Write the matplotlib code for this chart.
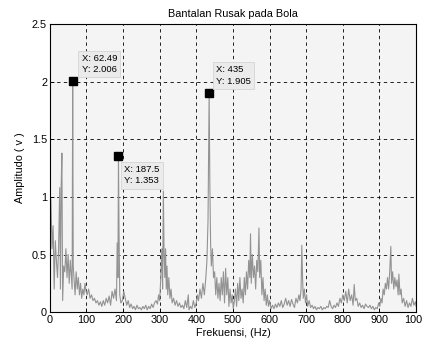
import numpy as np
import matplotlib.pyplot as plt
import matplotlib.transforms as mtransforms

plt.rcParams['font.family'] = ['Liberation Sans', 'DejaVu Sans']

# spectrum (Hz, volt)
freq = [0, 3, 6, 9, 12, 15, 18, 21, 24, 27, 29, 31, 33, 35, 38, 41, 44, 47, 50, 53,
        56, 59, 61, 62.49, 64, 66, 69, 72, 75, 78, 81, 84, 87, 90, 93, 96, 99, 102,
        106, 110, 114, 118, 122, 126, 130, 134, 138, 142, 146, 150, 154, 158, 162,
        166, 170, 174, 178, 182, 184, 186, 187.5, 189, 191, 194, 198, 202, 206, 210,
        214, 218, 222, 226, 230, 234, 238, 242, 246, 250, 254, 258, 262, 266, 270,
        274, 278, 282, 286, 290, 294, 297, 300, 303, 306, 308, 310, 312, 314, 316,
        318, 320, 322, 325, 328, 331, 334, 338, 342, 346, 350, 354, 358, 362, 366,
        370, 374, 378, 380, 384, 388, 392, 396, 400, 403, 406, 410, 414, 418, 422,
        426, 429, 432, 435, 437, 439, 441, 444, 447, 450, 453, 456, 459, 462, 465,
        468, 471, 474, 477, 480, 483, 486, 489, 492, 495, 498, 501, 504, 507, 510,
        513, 516, 519, 522, 525, 528, 531, 534, 537, 540, 543, 546, 548, 550, 553,
        556, 559, 562, 565, 568, 571, 573, 576, 579, 582, 585, 588, 591, 594, 597,
        600, 604, 608, 612, 616, 620, 624, 628, 632, 636, 640, 644, 648, 652, 656,
        660, 664, 668, 672, 676, 680, 683, 686, 688, 690, 692, 695, 698, 701, 704,
        708, 712, 716, 720, 724, 728, 732, 736, 740, 744, 748, 752, 756, 760, 764,
        768, 772, 776, 780, 784, 788, 792, 796, 800, 804, 808, 812, 816, 820, 824,
        828, 831, 834, 838, 842, 846, 850, 854, 858, 862, 866, 870, 874, 878, 882,
        886, 890, 894, 898, 901, 904, 907, 910, 913, 916, 919, 922, 925, 928, 931,
        933, 936, 939, 942, 945, 948, 951, 953, 956, 959, 962, 966, 970, 974, 978,
        982, 986, 990, 994, 998, 1000]
amp = [0.95, 0.98, 0.55, 0.75, 0.2, 0.62, 0.45, 0.3, 0.55, 1.08, 0.2, 1.08, 1.38, 0.1,
       0.4, 0.35, 0.55, 0.3, 0.5, 0.25, 0.45, 0.3, 0.2, 2.006, 0.4, 0.3, 0.15, 0.35,
       0.2, 0.3, 0.15, 0.25, 0.12, 0.2, 0.15, 0.25, 0.18, 0.15, 0.2, 0.12, 0.15, 0.1,
       0.12, 0.08, 0.1, 0.06, 0.09, 0.05, 0.1, 0.06, 0.12, 0.08, 0.14, 0.06, 0.18,
       0.12, 0.2, 0.1, 0.6, 0.3, 1.353, 0.7, 0.15, 0.08, 0.1, 0.18, 0.12, 0.06, 0.1,
       0.04, 0.07, 0.03, 0.05, 0.02, 0.06, 0.03, 0.04, 0.02, 0.05, 0.03, 0.06, 0.02,
       0.05, 0.03, 0.07, 0.04, 0.08, 0.1, 0.07, 0.15, 0.1, 0.3, 0.55, 0.2, 1.05, 0.5,
       0.3, 0.55, 0.2, 0.4, 0.15, 0.3, 0.12, 0.2, 0.08, 0.12, 0.06, 0.1, 0.05, 0.08,
       0.04, 0.06, 0.03, 0.1, 0.04, 0.15, 0.02, 0.05, 0.03, 0.1, 0.04, 0.08, 0.15,
       0.1, 0.2, 0.12, 0.25, 0.15, 0.3, 0.45, 0.8, 1.905, 1.08, 0.6, 0.4, 0.55, 0.3,
       0.35, 0.15, 0.3, 0.12, 0.25, 0.1, 0.3, 0.15, 0.35, 0.08, 0.38, 0.15, 0.3, 0.05,
       0.2, 0.08, 0.15, 0.03, 0.1, 0.2, 0.05, 0.25, 0.1, 0.3, 0.12, 0.2, 0.08, 0.3,
       0.15, 0.35, 0.2, 0.45, 0.3, 0.68, 0.25, 0.5, 0.3, 0.4, 0.2, 0.45, 0.35, 0.73,
       0.3, 0.45, 0.15, 0.3, 0.1, 0.2, 0.06, 0.15, 0.05, 0.1, 0.03, 0.06, 0.03, 0.07,
       0.04, 0.08, 0.05, 0.1, 0.04, 0.07, 0.12, 0.06, 0.1, 0.05, 0.11, 0.07, 0.04,
       0.12, 0.08, 0.15, 0.1, 0.2, 0.58, 0.3, 0.12, 0.2, 0.08, 0.15, 0.05, 0.1, 0.04,
       0.06, 0.03, 0.05, 0.02, 0.04, 0.03, 0.05, 0.02, 0.04, 0.03, 0.05, 0.04, 0.1,
       0.05, 0.03, 0.06, 0.04, 0.08, 0.05, 0.12, 0.08, 0.15, 0.1, 0.18, 0.08, 0.2,
       0.1, 0.15, 0.06, 0.24, 0.1, 0.12, 0.05, 0.08, 0.04, 0.06, 0.03, 0.07, 0.05,
       0.04, 0.06, 0.03, 0.05, 0.02, 0.04, 0.03, 0.08, 0.05, 0.12, 0.08, 0.2, 0.15,
       0.25, 0.2, 0.3, 0.2, 0.35, 0.57, 0.25, 0.35, 0.2, 0.3, 0.22, 0.28, 0.15, 0.33,
       0.15, 0.2, 0.08, 0.12, 0.05, 0.1, 0.04, 0.08, 0.05, 0.12, 0.06, 0.09, 0.05]

# data tips
tip_x = [62.49, 187.5, 435]
tip_y = [2.006, 1.353, 1.905]
tip_off = [(9, 7, 'bottom'), (6, -9, 'top'), (7, 7, 'bottom')]

fig = plt.figure(figsize=(4.22, 3.43), dpi=100)
ax = fig.add_axes([0.118, 0.090, 0.868, 0.840])
ax.set_facecolor('#f4f4f4')

ax.plot(freq, amp, color='#939393', lw=0.8)
ax.plot(tip_x, tip_y, 's', color='black', ms=5.5)

for x, y, (dx, dy, va) in zip(tip_x, tip_y, tip_off):
    ax.annotate('X: %g\nY: %.3f' % (x, y), (x, y), xytext=(dx, dy),
                textcoords='offset pixels', ha='left', va=va, fontsize=6.8,
                linespacing=1.3,
                bbox=dict(boxstyle='square,pad=0.35', fc='#ebebeb', ec='#d4d4d4', lw=0.6))

ax.set_xlim(0, 1000)
ax.set_ylim(0, 2.5)
ax.set_xticks(np.arange(0, 1001, 100))
ax.set_xticklabels([str(v) for v in range(0, 1000, 100)] + ['100'])
ax.set_yticks([0, 0.5, 1, 1.5, 2, 2.5])
ax.set_yticklabels(['0', '0.5', '1', '1.5', '2', '2.5'])
ax.tick_params(direction='in', length=3, labelsize=7.8, pad=2, width=0.6)
ax.grid(True, color='black', linestyle=(0, (4, 4)), lw=0.6)
for s in ax.spines.values():
    s.set_linewidth(0.8)

# last x label sits at the right edge of the picture
last = ax.get_xticklabels()[-1]
last.set_transform(last.get_transform() +
                   mtransforms.ScaledTranslation(-3 / 100, 0, fig.dpi_scale_trans))

ax.set_title('Bantalan Rusak pada Bola', fontsize=7.8, pad=5)
ax.set_xlabel('Frekuensi, (Hz)', fontsize=7.8, labelpad=2)
ax.set_ylabel('Amplitudo ( v )', fontsize=7.8, labelpad=5)

fig.savefig('out.png', dpi=100)
